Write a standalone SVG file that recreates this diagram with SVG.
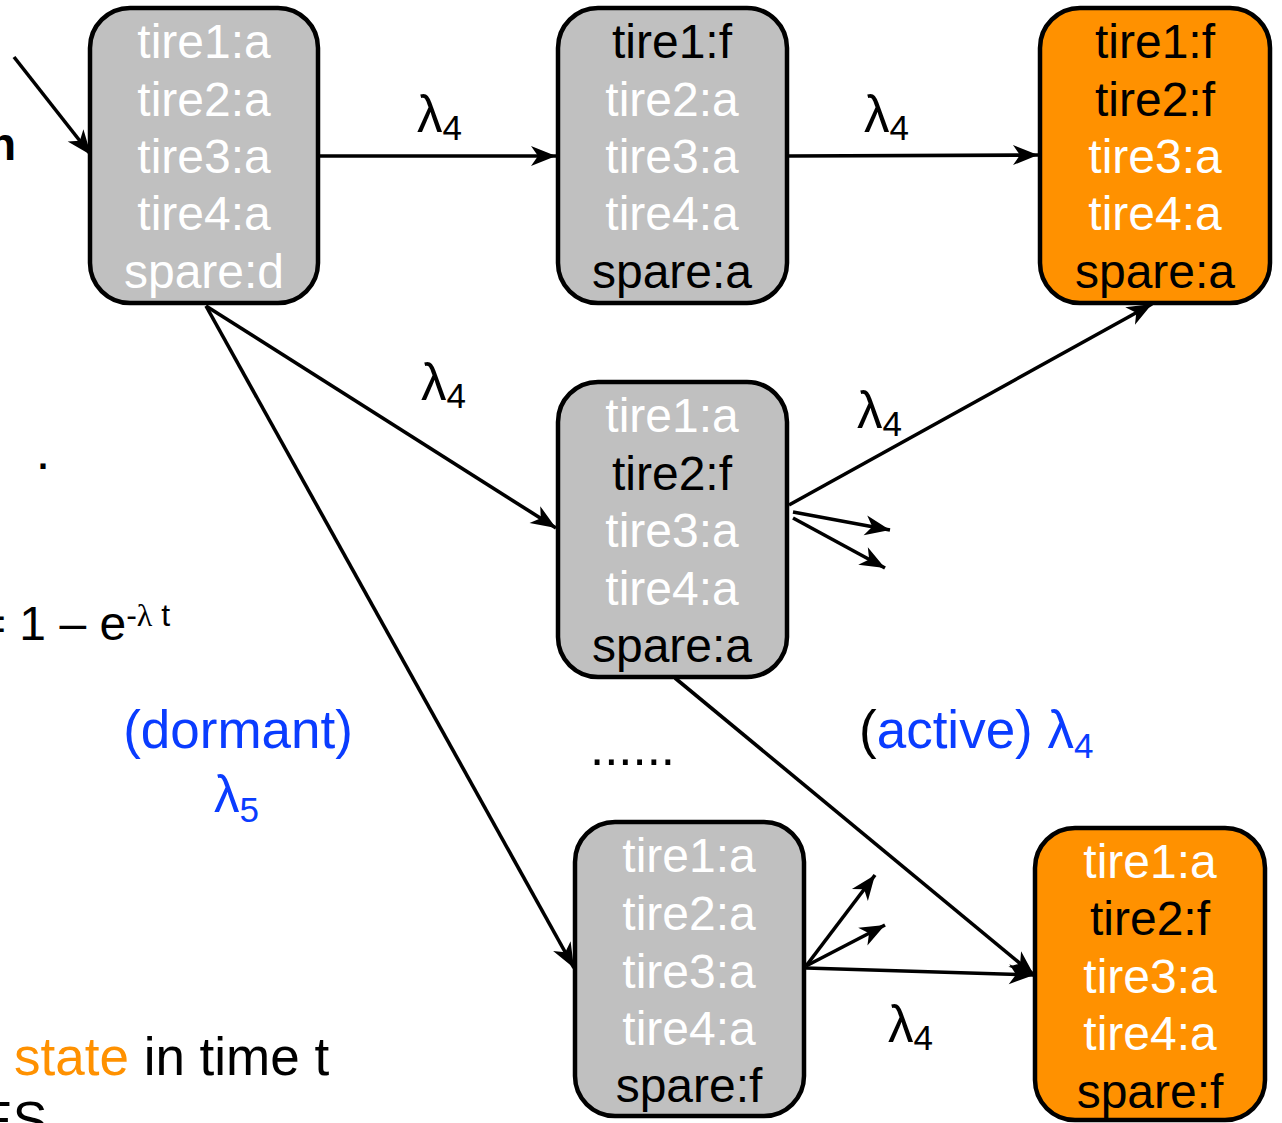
<svg xmlns="http://www.w3.org/2000/svg" width="1282" height="1123" viewBox="0 0 1282 1123">
  <style>
    text { font-family: "Liberation Sans", Arial, sans-serif; }
    .node rect { stroke: #000; stroke-width: 4.5; }
    .gray { fill: #c0c0c0; }
    .orange { fill: #ff9100; }
    .st { font-size: 48px; text-anchor: middle; }
    .w { fill: #ffffff; }
    .k { fill: #000000; }
    .edge { stroke: #000; stroke-width: 3.6; fill: none; marker-end: url(#arrow); }
    .lab { font-size: 51px; fill: #000; }
    .note { font-size: 53px; fill: #000; }
    .blue { fill: #0a3cff; }
    .sub { font-size: 35px; }
  </style>
  <defs>
    <marker id="arrow" markerUnits="userSpaceOnUse" markerWidth="30" markerHeight="24" viewBox="-26 -12 30 24" refX="0" refY="0" orient="auto">
      <path d="M0,0 L-25,-10 L-18,0 L-25,10 Z" fill="#000"/>
    </marker>
  </defs>

  <rect width="1282" height="1123" fill="#ffffff"/>

  <!-- connectors -->
  <g id="connectors">
    <line class="edge" x1="14" y1="57" x2="91" y2="155"/>
    <line class="edge" x1="320" y1="156" x2="556" y2="156"/>
    <line class="edge" x1="789" y1="156" x2="1038" y2="155"/>
    <line class="edge" x1="206" y1="306" x2="556" y2="528"/>
    <line class="edge" x1="206" y1="306" x2="574" y2="968"/>
    <line class="edge" x1="789" y1="505" x2="1152" y2="304"/>
    <line class="edge" x1="793" y1="512" x2="890" y2="530"/>
    <line class="edge" x1="793" y1="518" x2="885" y2="568"/>
    <line class="edge" x1="675" y1="678" x2="1034" y2="975"/>
    <line class="edge" x1="806" y1="968" x2="1034" y2="975"/>
    <line class="edge" x1="806" y1="966" x2="875" y2="875"/>
    <line class="edge" x1="806" y1="966" x2="885" y2="925"/>

    <!-- rate labels -->
    <text class="lab" x="417" y="132">λ<tspan class="sub" dy="8">4</tspan></text>
    <text class="lab" x="864" y="132">λ<tspan class="sub" dy="8">4</tspan></text>
    <text class="lab" x="421" y="400">λ<tspan class="sub" dy="8">4</tspan></text>
    <text class="lab" x="857" y="428">λ<tspan class="sub" dy="8">4</tspan></text>
    <text class="lab" x="888" y="1042">λ<tspan class="sub" dy="8">4</tspan></text>
  </g>

  <!-- states -->
  <g id="s-init" class="node">
    <rect class="gray" x="90" y="8" width="228" height="295" rx="40"/>
    <text class="st w" x="204" y="58">tire1:a</text>
    <text class="st w" x="204" y="116">tire2:a</text>
    <text class="st w" x="204" y="173">tire3:a</text>
    <text class="st w" x="204" y="230">tire4:a</text>
    <text class="st w" x="204" y="288">spare:d</text>
  </g>

  <g id="s-t1f" class="node">
    <rect class="gray" x="558" y="8" width="229" height="295" rx="40"/>
    <text class="st k" x="672" y="58">tire1:f</text>
    <text class="st w" x="672" y="116">tire2:a</text>
    <text class="st w" x="672" y="173">tire3:a</text>
    <text class="st w" x="672" y="230">tire4:a</text>
    <text class="st k" x="672" y="288">spare:a</text>
  </g>

  <g id="s-t1f-t2f" class="node">
    <rect class="orange" x="1040" y="8" width="230" height="295" rx="40"/>
    <text class="st k" x="1155" y="58">tire1:f</text>
    <text class="st k" x="1155" y="116">tire2:f</text>
    <text class="st w" x="1155" y="173">tire3:a</text>
    <text class="st w" x="1155" y="230">tire4:a</text>
    <text class="st k" x="1155" y="288">spare:a</text>
  </g>

  <g id="s-t2f" class="node">
    <rect class="gray" x="558" y="382" width="229" height="295" rx="40"/>
    <text class="st w" x="672" y="432">tire1:a</text>
    <text class="st k" x="672" y="490">tire2:f</text>
    <text class="st w" x="672" y="547">tire3:a</text>
    <text class="st w" x="672" y="605">tire4:a</text>
    <text class="st k" x="672" y="662">spare:a</text>
  </g>

  <g id="s-sf" class="node">
    <rect class="gray" x="575" y="822" width="229" height="294" rx="40"/>
    <text class="st w" x="689" y="872">tire1:a</text>
    <text class="st w" x="689" y="930">tire2:a</text>
    <text class="st w" x="689" y="988">tire3:a</text>
    <text class="st w" x="689" y="1045">tire4:a</text>
    <text class="st k" x="689" y="1102">spare:f</text>
  </g>

  <g id="s-t2f-sf" class="node">
    <rect class="orange" x="1035" y="828" width="230" height="292" rx="40"/>
    <text class="st w" x="1150" y="878">tire1:a</text>
    <text class="st k" x="1150" y="935">tire2:f</text>
    <text class="st w" x="1150" y="993">tire3:a</text>
    <text class="st w" x="1150" y="1050">tire4:a</text>
    <text class="st k" x="1150" y="1108">spare:f</text>
  </g>

  <!-- annotations -->
  <text class="note blue" x="238" y="748" text-anchor="middle">(dormant)</text>
  <text class="lab blue" x="214" y="812">λ<tspan class="sub" dy="10">5</tspan></text>
  <text class="note" x="859" y="748">(<tspan class="blue">active) λ<tspan class="sub" dy="10">4</tspan></tspan></text>
  <text class="lab" x="590" y="765">......</text>

  <!-- text running in from the left edge -->
  <text x="-12" y="160" font-size="46" font-weight="bold" fill="#000">n</text>
  <text x="38" y="469" font-size="36" font-weight="bold" fill="#000">.</text>
  <text x="-22" y="640" font-size="48" fill="#000">= 1 – e<tspan font-size="32" dy="-14">-<tspan font-family="'Liberation Serif', serif">λ</tspan> t</tspan></text>
  <text x="14" y="1075" font-size="53" fill="#000"><tspan fill="#ff9100">state</tspan> in time t</text>
  <text x="-22" y="1138" font-size="52" fill="#000">ES</text>
</svg>
